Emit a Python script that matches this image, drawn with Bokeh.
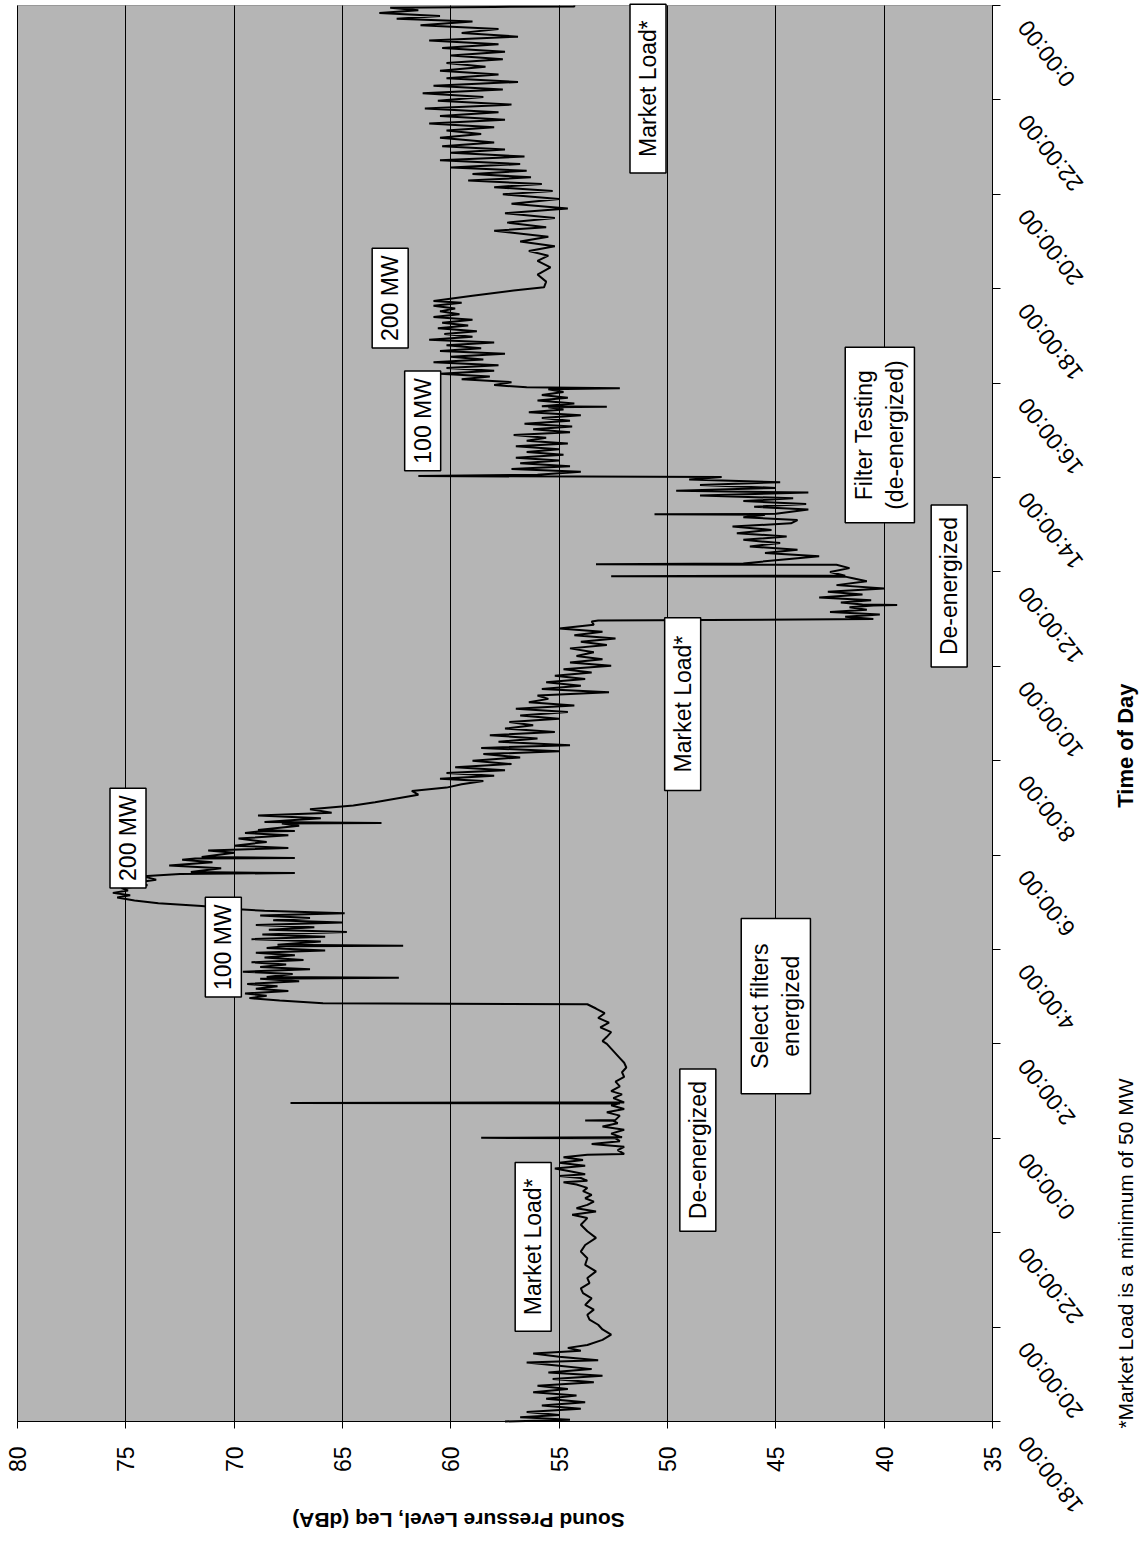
import math
from bokeh.plotting import figure
from bokeh.models import FixedTicker, Label, Range1d, LinearAxis, Grid, BoxAnnotation
from bokeh.embed import file_html
from bokeh.resources import INLINE

# ---- data: hours since 18:00 (day 1) and sound level (dBA) ----
time_h = [
    0.00, 0.04, 0.09, 0.14, 0.20, 0.27, 0.34, 0.41, 0.48, 0.55, 0.62, 0.69, 0.76, 0.83, 0.90, 0.97,
    1.04, 1.11, 1.18, 1.25, 1.30, 1.37, 1.44, 1.50, 1.56, 1.62, 1.73, 1.84, 1.95, 2.05, 2.16, 2.26,
    2.37, 2.47, 2.61, 2.72, 2.82, 2.93, 3.04, 3.18, 3.32, 3.46, 3.60, 3.74, 3.89, 4.03, 4.17, 4.31,
    4.38, 4.45, 4.52, 4.59, 4.66, 4.73, 4.80, 4.88, 4.95, 5.02, 5.07, 5.10, 5.16, 5.20, 5.24, 5.30,
    5.36, 5.42, 5.48, 5.54, 5.60, 5.65, 5.67, 5.75, 5.82, 5.88, 5.94, 6.00, 6.01, 6.02, 6.10, 6.18,
    6.25, 6.32, 6.37, 6.38, 6.39, 6.48, 6.55, 6.62, 6.70, 6.74, 6.75, 6.76, 6.85, 6.93, 7.00, 7.10,
    7.20, 7.30, 7.40, 7.50, 7.60, 7.70, 7.80, 7.90, 8.00, 8.06, 8.15, 8.25, 8.35, 8.45, 8.55, 8.65,
    8.75, 8.84, 8.86, 8.92, 8.97, 9.02, 9.07, 9.12, 9.17, 9.22, 9.27, 9.33, 9.38, 9.40, 9.42, 9.48,
    9.53, 9.58, 9.63, 9.68, 9.73, 9.78, 9.83, 9.88, 9.93, 9.98, 10.03, 10.07, 10.08, 10.10, 10.17, 10.22,
    10.27, 10.32, 10.37, 10.42, 10.47, 10.52, 10.57, 10.62, 10.67, 10.72, 10.77, 10.82, 10.86, 10.92, 10.98, 11.04,
    11.10, 11.15, 11.20, 11.25, 11.30, 11.36, 11.42, 11.48, 11.55, 11.60, 11.62, 11.64, 11.72, 11.78, 11.85, 11.90,
    11.93, 11.94, 11.96, 12.05, 12.10, 12.15, 12.20, 12.28, 12.35, 12.42, 12.47, 12.50, 12.51, 12.53, 12.62, 12.67,
    12.68, 12.70, 12.78, 12.84, 12.90, 12.97, 13.05, 13.12, 13.20, 13.28, 13.36, 13.43, 13.50, 13.57, 13.62, 13.68,
    13.74, 13.80, 13.86, 13.93, 14.00, 14.07, 14.14, 14.20, 14.27, 14.33, 14.40, 14.47, 14.54, 14.61, 14.68, 14.75,
    14.82, 14.89, 14.96, 15.03, 15.10, 15.17, 15.24, 15.31, 15.38, 15.45, 15.52, 15.59, 15.66, 15.73, 15.80, 15.87,
    15.94, 16.01, 16.08, 16.15, 16.22, 16.30, 16.38, 16.45, 16.52, 16.59, 16.66, 16.73, 16.80, 16.88, 16.95, 16.97,
    17.00, 17.05, 17.10, 17.15, 17.20, 17.25, 17.29, 17.30, 17.31, 17.35, 17.40, 17.46, 17.52, 17.58, 17.65, 17.72,
    17.80, 17.87, 17.90, 17.91, 17.92, 18.00, 18.08, 18.15, 18.16, 18.18, 18.27, 18.33, 18.40, 18.47, 18.54, 18.61,
    18.68, 18.75, 18.82, 18.89, 18.96, 19.03, 19.10, 19.16, 19.21, 19.22, 19.23, 19.32, 19.38, 19.44, 19.50, 19.56,
    19.62, 19.68, 19.72, 19.78, 19.84, 19.90, 19.96, 20.01, 20.03, 20.06, 20.12, 20.18, 20.24, 20.30, 20.36, 20.42,
    20.48, 20.54, 20.60, 20.66, 20.72, 20.78, 20.84, 20.90, 20.96, 21.02, 21.08, 21.14, 21.20, 21.26, 21.32, 21.38,
    21.44, 21.49, 21.50, 21.51, 21.57, 21.63, 21.69, 21.75, 21.81, 21.87, 21.89, 21.91, 21.96, 22.02, 22.08, 22.14,
    22.20, 22.26, 22.32, 22.38, 22.44, 22.50, 22.56, 22.62, 22.68, 22.74, 22.80, 22.86, 22.92, 22.98, 23.04, 23.10,
    23.16, 23.22, 23.28, 23.34, 23.40, 23.46, 23.52, 23.58, 23.64, 23.70, 23.74, 23.85, 23.96, 24.03, 24.15, 24.30,
    24.45, 24.59, 24.70, 24.80, 24.90, 25.00, 25.10, 25.23, 25.30, 25.40, 25.50, 25.60, 25.70, 25.80, 25.90, 26.00,
    26.07, 26.15, 26.22, 26.29, 26.36, 26.43, 26.50, 26.57, 26.64, 26.72, 26.80, 26.88, 26.95, 27.02, 27.10, 27.20,
    27.28, 27.35, 27.42, 27.50, 27.58, 27.66, 27.74, 27.82, 27.90, 27.98, 28.06, 28.14, 28.22, 28.30, 28.38, 28.46,
    28.54, 28.62, 28.70, 28.78, 28.86, 28.94, 29.02, 29.10, 29.18, 29.26, 29.34, 29.42, 29.50, 29.58, 29.66, 29.72,
    29.78, 29.84, 29.90, 29.95, 29.97, 29.98, 30.00,
]
spl_db = [
    57.5, 54.5, 56.8, 55.0, 56.5, 54.0, 55.8, 53.8, 55.6, 54.2, 56.2, 54.6, 56.0, 53.4, 55.3, 53.0,
    55.5, 53.5, 55.0, 56.5, 53.2, 55.0, 56.2, 54.0, 54.6, 53.7, 53.0, 52.6, 53.0, 53.2, 53.6, 53.7,
    53.4, 53.8, 53.5, 53.9, 54.0, 53.6, 53.7, 53.3, 53.8, 53.7, 54.0, 53.8, 53.3, 53.7, 54.0, 53.7,
    54.4, 53.3, 54.2, 53.7, 53.4, 53.8, 53.5, 53.9, 53.7, 54.2, 54.8, 53.7, 54.0, 55.0, 53.8, 54.5,
    55.2, 53.8, 55.0, 53.9, 54.8, 53.7, 52.0, 52.3, 52.0, 53.5, 52.2, 52.4, 58.6, 52.1, 52.6, 52.0,
    53.0, 52.3, 52.5, 53.8, 52.4, 52.2, 52.8, 52.0, 52.6, 52.2, 67.4, 52.0, 52.5, 52.1, 52.6, 52.2,
    52.4, 52.0, 52.1, 51.9, 52.0, 52.2, 52.4, 52.6, 52.8, 53.0, 52.8, 52.6, 53.1, 52.7, 53.2, 52.9,
    53.3, 53.7, 65.9, 67.9, 69.3, 68.5, 69.5, 67.5, 69.0, 68.0, 69.4, 67.0, 68.8, 62.4, 68.5, 67.3,
    69.6, 66.5, 68.8, 67.6, 69.2, 66.8, 68.6, 67.2, 69.0, 65.8, 68.5, 67.6, 62.2, 68.0, 66.0, 69.2,
    65.8, 68.7, 64.8, 68.4, 66.3, 69.0, 65.0, 68.2, 66.5, 68.8, 64.9, 68.6, 70.0, 71.5, 73.5, 74.6,
    75.4, 74.8, 75.6, 74.9, 75.2, 74.0, 74.5, 73.6, 74.2, 72.5, 67.2, 72.0, 70.6, 73.0, 71.0, 72.4,
    71.8, 67.2, 71.5, 70.0, 71.2, 67.5, 70.0, 68.5, 69.8, 67.5, 69.5, 68.9, 67.2, 68.9, 67.0, 67.8,
    63.2, 68.6, 66.0, 68.9, 65.5, 66.5, 64.5, 63.5, 62.5, 61.5, 61.8, 60.2, 59.5, 58.5, 60.5, 58.0,
    60.2, 57.5, 59.8, 57.2, 59.0, 56.8, 58.5, 55.0, 58.6, 54.5, 57.8, 56.0, 58.2, 55.2, 57.5, 56.2,
    57.3, 55.0, 56.8, 54.6, 57.0, 54.3, 56.4, 55.5, 56.0, 52.7, 55.8, 54.0, 55.6, 53.8, 55.2, 53.5,
    54.8, 52.6, 54.5, 53.0, 54.2, 53.4, 54.5, 52.8, 54.0, 52.4, 54.3, 53.0, 55.0, 53.4, 53.5, 53.2,
    40.5, 41.8, 40.2, 42.5, 40.8, 41.6, 40.5, 39.4, 41.0, 42.0, 40.6, 43.0, 41.0, 42.6, 40.0, 42.2,
    40.8, 41.5, 41.8, 52.6, 41.8, 42.5, 41.6, 42.2, 53.3, 46.5, 44.5, 43.0, 45.5, 44.0, 46.2, 44.8,
    46.5, 44.5, 46.8, 45.2, 47.0, 44.3, 44.0, 46.5, 45.5, 50.6, 45.0, 43.5, 46.0, 43.6, 46.5, 44.2,
    48.5, 43.5, 49.6, 45.0, 48.5, 44.8, 49.0, 47.5, 61.5, 56.0, 54.0, 57.2, 54.5, 56.8, 55.0, 57.0,
    54.8, 56.5, 55.0, 57.0, 54.6, 56.5, 55.6, 57.1, 54.5, 56.2, 54.4, 56.6, 54.5, 55.8, 54.0, 56.4,
    54.8, 55.5, 52.8, 55.8, 54.3, 56.0, 54.6, 55.8, 54.8, 55.5, 52.2, 56.5, 58.0, 57.2, 59.5, 58.2,
    60.5, 58.0, 60.2, 57.8, 60.8, 58.5, 60.0, 57.5, 60.5, 58.6, 60.2, 58.0, 61.0, 59.0, 60.3, 58.8,
    60.6, 59.2, 60.4, 59.0, 60.8, 59.6, 60.5, 59.8, 60.8, 59.5, 60.8, 59.0, 57.1, 55.7, 55.6, 56.0,
    55.4, 56.0, 55.5, 56.4, 55.2, 56.8, 55.5, 58.0, 55.6, 57.4, 55.2, 57.5, 54.6, 57.2, 55.0, 57.6,
    55.3, 58.0, 55.8, 59.2, 56.3, 59.0, 56.5, 60.0, 56.8, 60.5, 56.6, 60.0, 57.5, 60.4, 58.0, 60.5,
    58.6, 60.2, 58.0, 61.0, 57.5, 60.5, 57.8, 61.2, 57.2, 60.6, 58.5, 61.3, 57.6, 60.8, 56.9, 60.2,
    57.8, 60.5, 58.4, 60.2, 57.6, 60.0, 57.5, 60.4, 57.8, 61.0, 56.9, 59.5, 57.8, 61.4, 59.0, 62.5,
    60.5, 63.3, 61.5, 62.8, 58.0, 54.3, 54.3,
]

spl_ticks = [80, 75, 70, 65, 60, 55, 50, 45, 40, 35]
time_ticks = [0, 2, 4, 6, 8, 10, 12, 14, 16, 18, 20, 22, 24, 26, 28, 30]
time_tick_labels = ["18:00:00", "20:00:00", "22:00:00", "0:00:00", "2:00:00", "4:00:00",
                    "6:00:00", "8:00:00", "10:00:00", "12:00:00", "14:00:00", "16:00:00",
                    "18:00:00", "20:00:00", "22:00:00", "0:00:00"]

# annotation boxes: text, level (dBA), time (h), padding (along text, across text)
notes = [
    ("Market Load*", 56.2, 3.7, (16, 5)),
    ("De-energized", 48.6, 5.75, (12, 5)),
    ("Select filters\nenergized", 45.0, 8.8, (25, 6)),
    ("100 MW", 70.5, 10.05, (7, 5)),
    ("200 MW", 74.9, 12.36, (7, 5)),
    ("Market Load*", 49.3, 15.2, (18, 5)),
    ("De-energized", 37.0, 17.7, (12, 5)),
    ("Filter Testing\n(de-energized)", 40.2, 20.9, (13, 6)),
    ("100 MW", 61.3, 21.2, (7, 5)),
    ("200 MW", 62.8, 23.8, (7, 5)),
    ("Market Load*", 50.9, 28.24, (16, 5)),
]

FONT = "Liberation Sans"
LVL_LO, LVL_HI = 35, 80
T_LO, T_HI = 0, 30

# the frame covers the whole canvas; the plotting area is a box inside it
p = figure(width=1140, height=1546,
           x_range=Range1d(80.785, 28.169), y_range=Range1d(-2.648, 30.106),
           x_axis_location=None, y_axis_location=None,
           output_backend="svg", toolbar_location=None,
           min_border_left=0, min_border_right=0, min_border_top=0, min_border_bottom=0)
p.outline_line_color = None
p.background_fill_color = "white"
p.border_fill_color = "white"
p.xgrid.visible = False
p.ygrid.visible = False

p.add_layout(BoxAnnotation(left=LVL_HI, right=LVL_LO, bottom=T_LO, top=T_HI,
                           fill_color="#b5b5b5", fill_alpha=1.0,
                           line_color="black", line_width=1, level="underlay"))

grid_ok = True
try:
    g = Grid(dimension=0, ticker=FixedTicker(ticks=spl_ticks),
             grid_line_color="black", grid_line_width=1)
    g.bounds = (LVL_LO, LVL_HI)
    g.cross_bounds = (T_LO, T_HI)
    p.add_layout(g)
except Exception:
    grid_ok = False
if not grid_ok:
    p.segment(x0=spl_ticks, y0=[T_LO] * len(spl_ticks), x1=spl_ticks, y1=[T_HI] * len(spl_ticks),
              line_color="black", line_width=1, level="underlay")

# level axis along the bottom of the plotting area
xa = LinearAxis(fixed_location=T_LO, bounds=(LVL_LO, LVL_HI), ticker=FixedTicker(ticks=spl_ticks))
xa.major_label_orientation = math.pi / 2
xa.major_label_text_font = FONT
xa.major_label_text_font_size = "23px"
xa.major_label_text_color = "black"
xa.major_label_standoff = 18
xa.major_tick_out = 7
xa.major_tick_in = 0
xa.minor_tick_line_color = None
xa.axis_line_color = "black"
xa.major_tick_line_color = "black"
p.add_layout(xa, "below")

# time axis along the right side of the plotting area
ya = LinearAxis(fixed_location=LVL_LO, bounds=(T_LO, T_HI), ticker=FixedTicker(ticks=time_ticks))
ya.major_label_overrides = {t: "" for t in time_ticks}
ya.major_label_text_font_size = "0px"
ya.major_tick_out = 8
ya.major_tick_in = 0
ya.minor_tick_line_color = None
ya.axis_line_color = "black"
ya.major_tick_line_color = "black"
p.add_layout(ya, "right")

p.line(x=spl_db, y=time_h, line_color="black", line_width=2)

# time tick labels, slanted like the reference
for t, lab in zip(time_ticks, time_tick_labels):
    p.add_layout(Label(x=33.6, y=t - 0.38, text=lab, angle=math.radians(128),
                       text_align="right", text_baseline="middle",
                       text_font=FONT, text_font_size="23px", text_color="black"))

for txt, lvl, tt, pad in notes:
    p.add_layout(Label(x=lvl, y=tt, text=txt, angle=math.pi / 2,
                       text_align="center", text_baseline="middle",
                       text_font=FONT, text_font_size="23px", text_color="black",
                       background_fill_color="white", border_line_color="black",
                       border_line_width=1.5, padding=pad))

p.add_layout(Label(x=59.65, y=-2.10, text="Sound Pressure Level, Leq (dBA)", angle=math.pi,
                   text_align="center", text_baseline="middle", text_font=FONT,
                   text_font_size="21px", text_font_style="bold", text_color="black"))
p.add_layout(Label(x=28.85, y=14.32, text="Time of Day", angle=math.pi / 2,
                   text_align="center", text_baseline="middle", text_font=FONT,
                   text_font_size="22px", text_font_style="bold", text_color="black"))
p.add_layout(Label(x=28.85, y=-0.15, text="*Market Load is a minimum of 50 MW", angle=math.pi / 2,
                   text_align="left", text_baseline="middle", text_font=FONT,
                   text_font_size="21px", text_color="black"))

open("out.html", "w").write(file_html(p, INLINE))
